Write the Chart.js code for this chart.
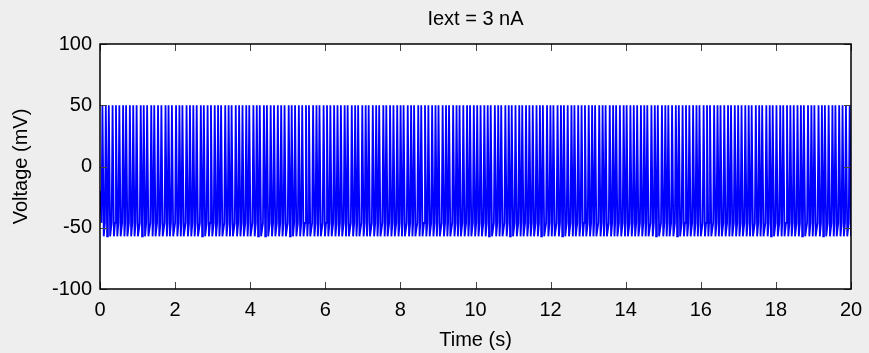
<!DOCTYPE html>
<html>
<head>
<meta charset="utf-8">
<script src="https://cdn.jsdelivr.net/npm/chart.js@4/dist/chart.umd.min.js"></script>
<style>
  html, body { margin: 0; padding: 0; background: #eeeeee; }
  canvas { display: block; }
</style>
</head>
<body>
<canvas id="trace" width="869" height="353"></canvas>
<script>
// spike times (s)
var spikeTimes = [
  0.04, 0.13, 0.21, 0.31, 0.40, 0.49, 0.59, 0.67, 0.77, 0.86, 0.95, 1.06, 1.14, 1.23, 1.34, 1.42, 1.52, 1.61, 1.72, 1.80,
  1.89, 2.00, 2.09, 2.17, 2.28, 2.37, 2.46, 2.55, 2.66, 2.74, 2.84, 2.93, 3.03, 3.12, 3.20, 3.31, 3.40, 3.48, 3.59, 3.68,
  3.77, 3.87, 3.95, 4.06, 4.15, 4.23, 4.34, 4.42, 4.52, 4.61, 4.71, 4.80, 4.89, 5.00, 5.08, 5.17, 5.27, 5.36, 5.46, 5.54,
  5.65, 5.74, 5.82, 5.93, 6.02, 6.11, 6.21, 6.30, 6.39, 6.49, 6.57, 6.68, 6.77, 6.85, 6.96, 7.05, 7.13, 7.24, 7.33, 7.41,
  7.52, 7.60, 7.70, 7.79, 7.89, 7.98, 8.06, 8.17, 8.26, 8.34, 8.45, 8.53, 8.63, 8.72, 8.82, 8.91, 8.99, 9.10, 9.19, 9.27,
  9.38, 9.47, 9.55, 9.65, 9.75, 9.83, 9.93, 10.02, 10.11, 10.21, 10.30, 10.38, 10.49, 10.58, 10.66, 10.77, 10.86, 10.94,
  11.04, 11.14, 11.22, 11.32, 11.41, 11.50, 11.60, 11.69, 11.77, 11.88, 11.97, 12.05, 12.16, 12.25, 12.33, 12.43, 12.53,
  12.61, 12.71, 12.80, 12.89, 12.99, 13.08, 13.16, 13.27, 13.36, 13.44, 13.55, 13.64, 13.72, 13.82, 13.92, 14.00, 14.10,
  14.19, 14.28, 14.38, 14.47, 14.55, 14.66, 14.75, 14.83, 14.94, 15.03, 15.11, 15.21, 15.31, 15.39, 15.49, 15.58, 15.67,
  15.77, 15.86, 15.94, 16.05, 16.14, 16.22, 16.33, 16.42, 16.50, 16.60, 16.70, 16.78, 16.88, 16.97, 17.06, 17.16, 17.25,
  17.33, 17.44, 17.53, 17.61, 17.72, 17.81, 17.89, 17.99, 18.09, 18.17, 18.27, 18.36, 18.45, 18.55, 18.64, 18.72, 18.83,
  18.92, 19.00, 19.11, 19.20, 19.28, 19.38, 19.48, 19.56, 19.66, 19.75, 19.84, 19.94
];
var startV = -20;      // mV at t = 0
var peakV = 50;        // spike peak (mV)
var troughV = -57;     // after-spike minimum (mV)
var thresholdV = -46;  // level just before each spike (mV)
var xTicks = [0, 2, 4, 6, 8, 10, 12, 14, 16, 18, 20];
var yTicks = [-100, -50, 0, 50, 100];

var titleText = 'Iext = 3 nA';
var fontFam = '"Liberation Sans", Arial, sans-serif';
var fontSize = 20;

// build the trace from the spike list
var trace = [{x: 0, y: startV}];
spikeTimes.forEach(function(t) {
  trace.push({x: t, y: thresholdV});
  trace.push({x: t + 0.025, y: peakV});
  trace.push({x: t + 0.06, y: troughV});
});
trace.push({x: 20, y: thresholdV});

// white plot area, inward ticks, box and title (MATLAB look)
var matlabFrame = {
  id: 'matlabFrame',
  beforeDatasetsDraw: function(chart) {
    var a = chart.chartArea, ctx = chart.ctx;
    ctx.save();
    ctx.fillStyle = '#ffffff';
    ctx.fillRect(a.left, a.top, a.right - a.left, a.bottom - a.top);
    ctx.restore();
  },
  afterDatasetsDraw: function(chart) {
    var a = chart.chartArea, ctx = chart.ctx;
    var xs = chart.scales.x, ys = chart.scales.y;
    ctx.save();
    ctx.strokeStyle = '#444';
    ctx.lineWidth = 1;
    ctx.beginPath();
    xTicks.forEach(function(v) {
      var px = Math.round(xs.getPixelForValue(v)) + 0.5;
      ctx.moveTo(px, a.bottom); ctx.lineTo(px, a.bottom - 7);
      ctx.moveTo(px, a.top); ctx.lineTo(px, a.top + 7);
    });
    yTicks.forEach(function(v) {
      var py = Math.round(ys.getPixelForValue(v)) + 0.5;
      ctx.moveTo(a.left, py); ctx.lineTo(a.left + 7, py);
      ctx.moveTo(a.right, py); ctx.lineTo(a.right - 7, py);
    });
    ctx.stroke();
    ctx.strokeStyle = '#000';
    ctx.lineWidth = 1.5;
    ctx.strokeRect(a.left, a.top, a.right - a.left, a.bottom - a.top);
    ctx.fillStyle = '#000';
    ctx.font = fontSize + 'px ' + fontFam;
    ctx.textAlign = 'center';
    ctx.textBaseline = 'alphabetic';
    ctx.fillText(titleText, (a.left + a.right) / 2, 25);
    ctx.restore();
  }
};

document.addEventListener('DOMContentLoaded', function() {
  var ctx = document.getElementById('trace').getContext('2d');
  new Chart(ctx, {
    type: 'line',
    data: {
      datasets: [{
        data: trace,
        borderColor: '#0000ff',
        borderWidth: 1.8,
        pointRadius: 0,
        fill: false,
        tension: 0
      }]
    },
    options: {
      responsive: false,
      animation: false,
      parsing: false,
      normalized: true,
      layout: { padding: { top: 44, right: 18, left: 0, bottom: 0 } },
      plugins: { legend: { display: false }, tooltip: { enabled: false } },
      scales: {
        x: {
          type: 'linear', min: 0, max: 20,
          afterBuildTicks: function(s) { s.ticks = xTicks.map(function(v) { return {value: v}; }); },
          ticks: { color: '#000', font: { family: fontFam, size: fontSize }, padding: 9, maxRotation: 0, autoSkip: false },
          grid: { display: false, drawTicks: false },
          border: { display: false },
          title: { display: true, text: 'Time (s)', color: '#000', font: { family: fontFam, size: fontSize }, padding: { top: 0, bottom: 1 } },
          afterFit: function(s) { s.height = 64; s.paddingLeft = 0; s.paddingRight = 0; }
        },
        y: {
          type: 'linear', min: -100, max: 100,
          afterBuildTicks: function(s) { s.ticks = yTicks.map(function(v) { return {value: v}; }); },
          ticks: { color: '#000', font: { family: fontFam, size: fontSize }, padding: 8 },
          grid: { display: false, drawTicks: false },
          border: { display: false },
          title: { display: true, text: 'Voltage (mV)', color: '#000', font: { family: fontFam, size: fontSize }, padding: { top: 9, bottom: 0 } },
          afterFit: function(s) { s.width = 100; s.paddingTop = 0; s.paddingBottom = 0; }
        }
      }
    },
    plugins: [matlabFrame]
  });
});
</script>
</body>
</html>
